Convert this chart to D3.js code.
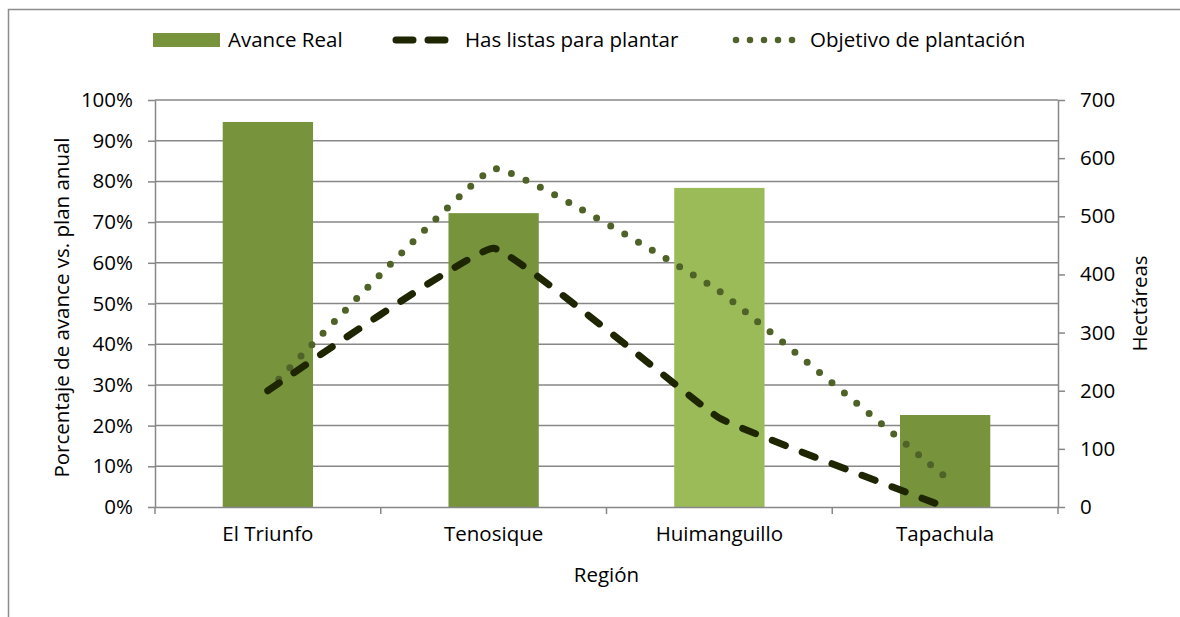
<!DOCTYPE html>
<html>
<head>
<meta charset="utf-8">
<script src="https://cdn.jsdelivr.net/npm/d3@7"></script>
<style>
  body { margin: 0; background: #fff; }
  svg text { font-family: "Open Sans", sans-serif; fill: #000; }
</style>
</head>
<body>
<div class="canvas"></div>
<script>
// data
const regions = ["El Triunfo", "Tenosique", "Huimanguillo", "Tapachula"];
const avanceReal = [0.946, 0.722, 0.784, 0.226];
const hasListas = [200, 445, 153, 0];
const objetivo = [200, 582, 371, 52];
const pctTicks = [0, 0.1, 0.2, 0.3, 0.4, 0.5, 0.6, 0.7, 0.8, 0.9, 1];
const haTicks = [0, 100, 200, 300, 400, 500, 600, 700];

const dims = { width: 1180, height: 617 };
const plot = { left: 155, right: 1058, top: 100, bottom: 507 };
const gridColor = "#878787";
const barColors = ["#77933c", "#77933c", "#9bbb59", "#77933c"];
const fontSize = 20.5;

const svg = d3
  .select(".canvas")
  .append("svg")
  .attr("width", dims.width)
  .attr("height", dims.height);

// outer frame
svg.append("rect")
  .attr("x", 8.5).attr("y", 9.5)
  .attr("width", dims.width + 20).attr("height", dims.height + 20)
  .attr("fill", "none")
  .attr("stroke", "#8c8c8c")
  .attr("stroke-width", 1.5);

// scales
const x = d3.scaleBand()
  .domain(regions)
  .range([plot.left, plot.right])
  .paddingInner(0.6)
  .paddingOuter(0.3);
const xBand = d3.scaleBand().domain(regions).range([plot.left, plot.right]);
const yPct = d3.scaleLinear().domain([0, 1]).range([plot.bottom, plot.top]);
const yHa = d3.scaleLinear().domain([0, 700]).range([plot.bottom, plot.top]);

// gridlines
svg.append("g")
  .selectAll("line")
  .data(pctTicks.slice(1))
  .join("line")
  .attr("x1", plot.left).attr("x2", plot.right)
  .attr("y1", d => yPct(d)).attr("y2", d => yPct(d))
  .attr("stroke", gridColor)
  .attr("stroke-width", 1.5);

// bars
svg.append("g")
  .selectAll("rect")
  .data(avanceReal)
  .join("rect")
  .attr("x", (d, i) => x(regions[i]))
  .attr("width", x.bandwidth())
  .attr("y", d => yPct(d))
  .attr("height", d => yPct(0) - yPct(d))
  .attr("fill", (d, i) => barColors[i]);

// axes
const styleAxis = g => {
  g.select(".domain").attr("stroke", gridColor).attr("stroke-width", 1.5);
  g.selectAll(".tick line").attr("stroke", gridColor).attr("stroke-width", 1.5);
  g.selectAll(".tick text").attr("font-size", fontSize).attr("font-family", "Open Sans, sans-serif");
};

svg.append("g")
  .attr("transform", `translate(${plot.left},0)`)
  .call(d3.axisLeft(yPct).tickValues(pctTicks).tickFormat(d3.format(".0%")).tickSize(7).tickPadding(15).tickSizeOuter(0))
  .call(styleAxis);

svg.append("g")
  .attr("transform", `translate(${plot.right},0)`)
  .call(d3.axisRight(yHa).tickValues(haTicks).tickSize(7).tickPadding(15).tickSizeOuter(0))
  .call(styleAxis);

const xAxis = svg.append("g")
  .attr("transform", `translate(0,${plot.bottom})`)
  .call(d3.axisBottom(xBand).tickSize(0).tickPadding(19).tickSizeOuter(0))
  .call(styleAxis);
// category boundary ticks
xAxis.append("g")
  .selectAll("line")
  .data(regions.concat(["end"]))
  .join("line")
  .attr("x1", (d, i) => plot.left + i * xBand.step())
  .attr("x2", (d, i) => plot.left + i * xBand.step())
  .attr("y1", 0).attr("y2", 7)
  .attr("stroke", gridColor).attr("stroke-width", 1.5);

// lines
const cx = r => xBand(r) + xBand.bandwidth() / 2;
const lineGen = d3.line()
  .x((d, i) => cx(regions[i]))
  .y(d => yHa(d))
  .curve(d3.curveCardinal.tension(0.75));

svg.append("path")
  .datum(objetivo)
  .attr("d", lineGen)
  .attr("fill", "none")
  .attr("stroke", "#4f6228")
  .attr("stroke-width", 7)
  .attr("stroke-linecap", "round")
  .attr("stroke-dasharray", "0,16");

svg.append("path")
  .datum(hasListas)
  .attr("d", lineGen)
  .attr("fill", "none")
  .attr("stroke", "#1d2600")
  .attr("stroke-width", 7)
  .attr("stroke-linecap", "round")
  .attr("stroke-dasharray", "14,18");

// axis titles
svg.append("text")
  .attr("transform", `translate(69,${(plot.top + plot.bottom) / 2 + 4}) rotate(-90)`)
  .attr("text-anchor", "middle")
  .attr("font-size", fontSize)
  .text("Porcentaje de avance vs. plan anual");

svg.append("text")
  .attr("transform", `translate(1147,${(plot.top + plot.bottom) / 2}) rotate(-90)`)
  .attr("text-anchor", "middle")
  .attr("font-size", fontSize)
  .text("Hectáreas");

svg.append("text")
  .attr("x", (plot.left + plot.right) / 2)
  .attr("y", 582)
  .attr("text-anchor", "middle")
  .attr("font-size", fontSize)
  .text("Región");

// legend
const legend = svg.append("g");
legend.append("rect")
  .attr("x", 153).attr("y", 33).attr("width", 67).attr("height", 14)
  .attr("fill", "#77933c");
legend.append("text").attr("x", 228).attr("y", 47).attr("font-size", fontSize).text("Avance Real");

legend.append("line")
  .attr("x1", 396).attr("x2", 459).attr("y1", 40).attr("y2", 40)
  .attr("stroke", "#1d2600").attr("stroke-width", 7)
  .attr("stroke-linecap", "round").attr("stroke-dasharray", "17,15");
legend.append("text").attr("x", 465).attr("y", 47).attr("font-size", fontSize).text("Has listas para plantar");

legend.append("line")
  .attr("x1", 736).attr("x2", 806).attr("y1", 40).attr("y2", 40)
  .attr("stroke", "#4f6228").attr("stroke-width", 6.5)
  .attr("stroke-linecap", "round").attr("stroke-dasharray", "0,14");
legend.append("text").attr("x", 810).attr("y", 47).attr("font-size", fontSize).text("Objetivo de plantación");
</script>
</body>
</html>
